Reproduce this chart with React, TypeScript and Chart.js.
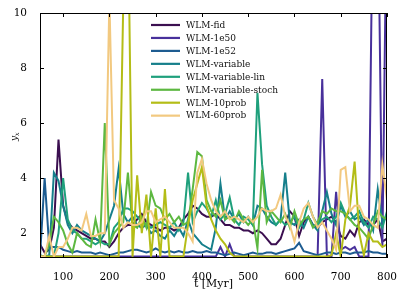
import React, { useEffect, useRef } from "react";
import { Chart, registerables } from "chart.js";
Chart.register(...registerables);

const times = [50, 60, 70, 80, 90, 100, 110, 120, 130, 140, 150, 160, 170, 180, 190, 200, 210, 220, 230, 240, 250, 260, 270, 280, 290, 300, 310, 320, 330, 340, 350, 360, 370, 380, 390, 400, 410, 420, 430, 440, 450, 460, 470, 480, 490, 500, 510, 520, 530, 540, 550, 560, 570, 580, 590, 600, 610, 620, 630, 640, 650, 660, 670, 680, 690, 700, 710, 720, 730, 740, 750, 760, 770, 780, 790, 800];

const fid = [1.6, 1.3, 1.4, 2.2, 5.4, 3.0, 2.4, 2.2, 2.1, 2.0, 1.9, 1.8, 1.8, 1.7, 1.7, 1.5, 1.7, 2.0, 2.2, 2.3, 2.3, 2.5, 2.7, 2.4, 2.3, 2.2, 2.1, 2.2, 2.2, 2.1, 2.2, 2.5, 2.7, 3.0, 2.9, 2.7, 2.6, 2.6, 2.7, 2.5, 2.3, 2.3, 2.2, 2.2, 2.1, 2.1, 2.0, 2.1, 2.0, 1.8, 1.6, 1.6, 1.8, 2.3, 2.8, 2.6, 1.9, 2.4, 2.6, 2.3, 2.2, 2.4, 2.5, 2.6, 2.4, 1.9, 1.8, 2.1, 1.9, 2.4, 2.5, 2.3, 2.3, 2.5, 1.7, 1.8];
const e50 = [1.15, 1.15, 1.15, 1.15, 1.15, 1.15, 1.15, 1.15, 1.15, 1.15, 1.15, 1.15, 1.15, 1.15, 1.15, 1.15, 1.15, 1.15, 1.15, 1.15, 1.15, 1.15, 1.15, 1.15, 1.15, 1.15, 1.15, 1.15, 1.15, 1.15, 1.15, 1.15, 1.15, 1.15, 1.15, 1.15, 1.15, 1.15, 1.15, 1.5, 1.15, 1.6, 1.15, 1.15, 1.15, 1.15, 1.15, 1.15, 1.15, 1.15, 1.15, 1.15, 1.15, 1.15, 1.15, 1.15, 1.15, 1.15, 1.15, 1.15, 1.15, 7.6, 1.2, 1.15, 3.5, 1.4, 1.5, 1.4, 1.5, 1.15, 1.15, 1.15, 15, 15, 1.5, 15];
const e52 = [1.15, 4.0, 1.5, 1.5, 1.5, 1.4, 1.35, 1.3, 1.35, 1.3, 1.3, 1.3, 1.25, 1.3, 1.25, 1.2, 1.25, 1.3, 1.3, 1.35, 1.4, 1.4, 1.35, 1.3, 1.35, 1.45, 1.35, 1.3, 1.35, 1.3, 1.35, 1.3, 1.3, 1.35, 1.3, 1.3, 1.35, 1.3, 1.3, 1.25, 1.2, 1.25, 1.3, 1.25, 1.2, 1.25, 1.3, 1.25, 1.25, 1.3, 1.3, 1.25, 1.3, 1.35, 1.4, 1.45, 1.65, 1.35, 1.3, 1.25, 1.2, 1.25, 1.3, 1.3, 1.25, 1.3, 1.3, 1.25, 1.3, 1.3, 1.3, 1.35, 1.3, 1.3, 1.25, 1.25];
const variable = [1.2, 1.15, 1.2, 4.2, 3.9, 3.0, 2.3, 2.0, 2.3, 2.1, 2.0, 1.9, 1.8, 1.7, 2.0, 2.5, 3.0, 4.35, 2.7, 2.4, 2.6, 2.3, 2.2, 2.3, 2.0, 2.1, 1.9, 1.8, 2.1, 1.9, 2.2, 1.9, 2.5, 2.0, 1.8, 1.6, 1.5, 1.4, 2.2, 3.8, 2.5, 2.8, 2.5, 2.7, 2.4, 2.6, 2.3, 3.0, 2.9, 2.6, 2.4, 2.3, 2.5, 4.2, 2.4, 2.3, 2.5, 2.2, 2.6, 2.3, 2.1, 2.8, 3.5, 2.7, 2.3, 3.0, 2.6, 2.8, 2.5, 2.6, 2.3, 2.5, 2.1, 3.6, 2.4, 2.6];
const variableLin = [1.15, 1.15, 1.15, 1.15, 2.0, 4.0, 2.5, 2.1, 2.0, 1.8, 1.8, 1.7, 1.6, 1.7, 1.6, 1.6, 2.2, 2.4, 2.9, 2.9, 2.8, 2.6, 2.4, 2.3, 2.2, 2.3, 2.4, 2.3, 2.2, 2.4, 2.1, 2.4, 4.2, 2.4, 2.8, 3.1, 2.9, 2.6, 3.2, 2.5, 2.7, 3.3, 2.5, 2.3, 2.6, 2.5, 2.3, 7.1, 4.5, 3.0, 2.6, 2.3, 2.5, 2.3, 2.4, 2.6, 2.2, 2.5, 3.1, 2.6, 2.3, 2.5, 2.6, 2.4, 2.6, 3.1, 2.7, 2.5, 2.6, 2.8, 2.4, 2.2, 2.6, 2.5, 2.2, 2.8];
const variableStoch = [1.15, 1.15, 1.6, 2.6, 2.4, 2.1, 1.6, 1.3, 2.0, 1.8, 1.6, 1.5, 2.5, 1.7, 6.0, 1.6, 2.0, 2.2, 2.4, 4.2, 2.3, 2.2, 2.6, 2.2, 3.5, 3.0, 2.9, 2.5, 2.7, 2.4, 2.6, 2.3, 2.4, 3.6, 4.95, 4.8, 3.2, 2.8, 2.6, 3.2, 2.5, 2.6, 2.4, 2.8, 2.5, 2.3, 2.5, 1.45, 4.3, 2.4, 2.8, 2.6, 2.4, 2.7, 2.2, 2.8, 2.3, 2.5, 2.6, 2.2, 2.4, 2.8, 2.7, 2.9, 2.8, 2.8, 2.7, 2.5, 2.3, 2.2, 2.0, 1.8, 2.3, 2.8, 2.6, 2.5];
const prob10 = [1.15, 1.15, 1.15, 1.15, 1.15, 1.15, 1.15, 1.15, 1.15, 1.15, 1.15, 1.15, 1.15, 1.15, 1.15, 1.15, 1.15, 1.15, 10.4, 14, 1.15, 4.1, 2.0, 3.4, 1.15, 2.9, 1.15, 3.6, 1.15, 1.15, 1.15, 1.15, 2.3, 3.2, 3.8, 4.4, 3.0, 2.5, 2.1, 1.8, 1.6, 1.3, 1.15, 1.15, 1.15, 1.15, 1.15, 1.15, 1.15, 1.15, 1.15, 1.15, 1.15, 1.15, 1.15, 1.15, 1.15, 1.15, 1.15, 1.15, 1.15, 1.15, 1.15, 1.2, 2.0, 1.15, 2.5, 3.0, 4.6, 2.0, 1.2, 2.0, 1.7, 1.7, 1.5, 1.6];
const prob60 = [1.15, 1.15, 1.9, 1.15, 1.5, 1.5, 1.8, 2.2, 2.2, 2.1, 2.7, 1.9, 1.9, 2.0, 2.0, 10.5, 3.2, 2.9, 2.2, 2.4, 2.3, 2.3, 2.4, 2.8, 2.8, 2.4, 2.5, 2.6, 2.4, 2.2, 2.2, 2.2, 2.0, 1.7, 4.2, 4.7, 3.8, 3.2, 2.8, 2.6, 2.8, 2.5, 2.6, 2.5, 2.4, 2.6, 2.4, 2.6, 2.9, 2.8, 2.8, 2.9, 3.4, 2.6, 2.3, 1.7, 2.4, 2.9, 3.1, 2.6, 2.2, 2.4, 2.1, 1.8, 1.4, 4.3, 4.4, 2.8, 3.0, 3.0, 2.6, 2.5, 2.3, 2.2, 4.5, 3.2];

const seriesLabels = ["WLM-fid", "WLM-1e50", "WLM-1e52", "WLM-variable", "WLM-variable-lin", "WLM-variable-stoch", "WLM-10prob", "WLM-60prob"];
const seriesValues = [fid, e50, e52, variable, variableLin, variableStoch, prob10, prob60];
const seriesColors = ["#3b0f50", "#48309b", "#1e5c91", "#167f8b", "#1fa07c", "#5db841", "#b4bd17", "#f2c980"];

const xTicks = [100, 200, 300, 400, 500, 600, 700, 800];
const yTicks = [2, 4, 6, 8, 10];
const xTitle = "t [Myr]";

const SERIF = "'DejaVu Serif', serif";

const decorPlugin = {
  id: "decor",
  afterDraw(chart: any) {
    const { ctx, chartArea: a, scales } = chart;
    const xs = scales.x;
    const ys = scales.y;
    ctx.save();
    ctx.strokeStyle = "#000";
    ctx.lineWidth = 1;
    ctx.strokeRect(Math.round(a.left) + 0.5, Math.round(a.top) + 0.5, Math.round(a.right - a.left) - 1, Math.round(a.bottom - a.top) - 1);
    const tl = 4;
    ctx.beginPath();
    xTicks.forEach((v) => {
      const p = Math.round(xs.getPixelForValue(v)) + 0.5;
      ctx.moveTo(p, a.bottom);
      ctx.lineTo(p, a.bottom - tl);
      ctx.moveTo(p, a.top);
      ctx.lineTo(p, a.top + tl);
    });
    yTicks.forEach((v) => {
      const p = Math.round(ys.getPixelForValue(v)) + 0.5;
      ctx.moveTo(a.left, p);
      ctx.lineTo(a.left + tl, p);
      ctx.moveTo(a.right, p);
      ctx.lineTo(a.right - tl, p);
    });
    ctx.stroke();

    // legend
    const lx0 = 151;
    const lx1 = 180;
    const ty = 25;
    const dy = 12.95;
    ctx.font = `9px ${SERIF}`;
    ctx.textBaseline = "middle";
    ctx.textAlign = "left";
    seriesLabels.forEach((lab, i) => {
      const y = ty + i * dy;
      ctx.strokeStyle = seriesColors[i];
      ctx.lineWidth = 2.2;
      ctx.beginPath();
      ctx.moveTo(lx0, y);
      ctx.lineTo(lx1, y);
      ctx.stroke();
      ctx.fillStyle = "#111";
      ctx.fillText(lab, 186, y + 0.5);
    });

    // x title
    ctx.fillStyle = "#000";
    ctx.font = `11px ${SERIF}`;
    ctx.textAlign = "center";
    ctx.textBaseline = "middle";
    ctx.fillText(xTitle, (a.left + a.right) / 2, 284);

    // y title
    ctx.translate(15, 137);
    ctx.rotate(-Math.PI / 2);
    ctx.font = `italic 9px ${SERIF}`;
    ctx.textAlign = "left";
    ctx.textBaseline = "alphabetic";
    ctx.fillText("y", -4, 2);
    ctx.font = `italic 6.5px ${SERIF}`;
    ctx.fillText("x", 1, 4);
    ctx.restore();
  },
};

export default function App() {
  const ref = useRef<HTMLCanvasElement | null>(null);
  useEffect(() => {
    if (!ref.current) return;
    const datasets = seriesLabels.map((lab, i) => ({
      label: lab,
      data: times.map((t, j) => ({ x: t, y: seriesValues[i][j] })),
      borderColor: seriesColors[i],
      backgroundColor: seriesColors[i],
      borderWidth: 2,
      pointRadius: 0,
      tension: 0,
      fill: false,
      order: seriesLabels.length - i,
      clip: 0,
    }));
    const chart = new Chart(ref.current, {
      type: "line",
      data: { datasets },
      options: {
        responsive: false,
        animation: false,
        layout: { padding: { top: 13, right: 20, left: 0, bottom: 0 } },
        plugins: { legend: { display: false }, tooltip: { enabled: false } },
        scales: {
          x: {
            type: "linear",
            min: 50,
            max: 800,
            grid: { display: false },
            border: { display: false },
            ticks: { font: { family: SERIF, size: 10.5 }, color: "#000", padding: 5, maxRotation: 0, autoSkip: false },
            afterBuildTicks: (s: any) => {
              s.ticks = xTicks.map((v) => ({ value: v }));
            },
            afterFit: (s: any) => {
              s.height = 47;
            },
          },
          y: {
            type: "linear",
            min: 1.1,
            max: 10,
            grid: { display: false },
            border: { display: false },
            ticks: { font: { family: SERIF, size: 10.5 }, color: "#000", padding: 5 },
            afterBuildTicks: (s: any) => {
              s.ticks = yTicks.map((v) => ({ value: v }));
            },
            afterFit: (s: any) => {
              s.width = 40;
            },
          },
        },
      } as any,
      plugins: [decorPlugin],
    });
    return () => chart.destroy();
  }, []);
  return (
    <div style={{ position: "absolute", left: 0, top: 0, width: 407, height: 305, background: "#fff" }}>
      <canvas ref={ref} width={407} height={305} style={{ display: "block" }} />
    </div>
  );
}
